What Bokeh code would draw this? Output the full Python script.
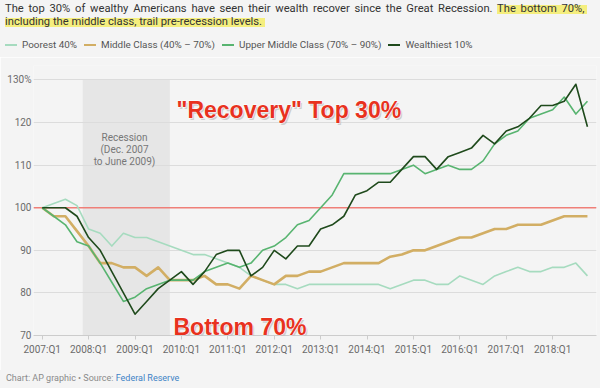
from bokeh.plotting import figure
from bokeh.layouts import column
from bokeh.models import Label, Span, BoxAnnotation, FixedTicker, Range1d, Div
from bokeh.embed import file_html
from bokeh.resources import INLINE

quarters = [f"{y}:Q{q}" for y in range(2007, 2019) for q in range(1, 5)]
poorest = [100, 101, 102, 100.5, 95, 94, 91, 94, 93, 93, 92, 91,
           90, 89, 89, 88, 87, 86, 84, 83, 82, 82, 81, 82,
           82, 82, 82, 82, 82, 82, 81, 82, 83, 83, 82, 82,
           84, 83, 82, 84, 85, 86, 85, 85, 86, 86, 87, 84]
middle = [100, 98, 98, 94.5, 91, 87, 87, 86, 86, 84, 86, 83,
          83, 83, 84, 82, 82, 81, 84, 83, 82, 84, 84, 85,
          85, 86, 87, 87, 87, 87, 88.5, 89, 90, 90, 91, 92,
          93, 93, 94, 95, 95, 96, 96, 96, 97, 98, 98, 98]
upper_middle = [100, 98, 96, 92, 91, 87, 82.5, 78, 79, 81, 82, 83,
                83, 83, 85, 86, 87, 86, 87, 90, 91, 93, 96, 97,
                100, 103, 108, 108, 108, 108, 108, 109, 110, 108, 109, 110,
                109, 109, 111, 115, 117, 118, 121, 122, 123, 126, 122, 125]
wealthiest = [100, 100, 100, 98, 93, 90, 85, 80, 75, 78, 81, 83,
              85, 82, 85, 89, 90, 90, 84, 86, 90, 88, 91, 91,
              95, 96, 98, 103, 104, 106, 106, 109, 112, 112, 109, 112,
              113, 114, 117, 115, 118, 119, 121, 124, 124, 125, 129, 119]
series_names = ["Poorest 40%", "Middle Class (40% \u2013 70%)",
                "Upper Middle Class (70% \u2013 90%)", "Wealthiest 10%"]
y_ticks = [70, 80, 90, 100, 110, 120, 130]
recession_start, recession_end = 3.5, 11.0
baseline_level = 100

title_plain = "The top 30% of wealthy Americans have seen their wealth recover since the Great Recession."
title_marked_1 = "The bottom 70%,"
title_marked_2 = "including the middle class, trail pre-recession levels."
source_text = "Chart: AP graphic \u2022 Source:"
source_link = "Federal Reserve"
recession_note = ["Recession", "(Dec. 2007", "to June 2009)"]
callouts = ["\"Recovery\" Top 30%", "Bottom 70%"]

BG = "#f4f4f4"
FONT = "Roboto"
colors = ["#a6dbbf", "#d2ae64", "#58b470", "#1f4a1c"]
widths = [1.6, 2.6, 1.6, 1.6]

W = 600
H_HEAD, H_MAIN, H_FOOT = 57, 313, 18
MAIN_TOP = H_HEAD            # page y of main figure top
FL, FB = 33, 335             # page coords of plot frame left / bottom

# ---------------- header: title + legend (HTML) ----------------
HL = ("background:linear-gradient(to bottom, rgba(0,0,0,0) 24%, rgba(245,236,80,0.72) 24%, "
      "rgba(245,236,80,0.72) 94%, rgba(0,0,0,0) 94%);padding-right:3px;")
legend_items = "".join(
    f'<span style="display:inline-flex;align-items:center;margin-right:7px;">'
    f'<span style="display:inline-block;width:12px;height:{w:.1f}px;background:{c};margin-right:5px;"></span>'
    f'<span>{n}</span></span>'
    for n, c, w in zip(series_names, colors, widths))
head_html = (
    f'<div style="position:relative;width:{W}px;height:{H_HEAD}px;background:{BG};'
    f'font-family:{FONT},sans-serif;overflow:hidden;">'
    f'<div style="position:absolute;left:5px;top:2px;font-size:11.2px;line-height:13px;'
    f'color:#333333;white-space:nowrap;">'
    f'<span style="word-spacing:2px;">{title_plain} <span style="{HL}">{title_marked_1}</span></span><br>'
    f'<span style="{HL}">{title_marked_2}</span></div>'
    f'<div style="position:absolute;left:5px;top:39px;font-size:9.9px;line-height:12px;'
    f'color:#555555;white-space:nowrap;display:flex;align-items:center;">{legend_items}</div>'
    f'</div>')
head = Div(text=head_html, width=W, height=H_HEAD, margin=0)

# ---------------- main chart ----------------
p = figure(width=W, height=H_MAIN, output_backend="svg", toolbar_location=None, tools="",
           x_range=Range1d(-0.75, 47.78), y_range=Range1d(70, 133.4),
           min_border_left=FL, min_border_right=4, min_border_top=65 - MAIN_TOP,
           min_border_bottom=MAIN_TOP + H_MAIN - FB,
           background_fill_color=BG, border_fill_color=BG, outline_line_color=None)

p.add_layout(BoxAnnotation(left=recession_start, right=recession_end, bottom=70, top=130,
                           fill_color="#dcdcdc", fill_alpha=0.6, line_color=None, level="underlay"))
p.add_layout(Span(location=baseline_level, dimension="width", line_color="#ef7f78",
                  line_width=1.5, level="underlay"))

x = list(range(len(quarters)))
tick_idx = list(range(0, len(quarters), 4))
for vals, c, w, n in zip([poorest, middle, upper_middle, wealthiest], colors, widths, series_names):
    p.line(x, vals, line_color=c, line_width=w, line_join="round", name=n)

p.xaxis.ticker = FixedTicker(ticks=tick_idx)
p.xaxis.major_label_overrides = {i: quarters[i] for i in tick_idx}
p.xaxis.axis_line_color = "#cccccc"
p.xaxis.major_tick_line_color = "#cccccc"
p.xaxis.major_tick_out = 4
p.xaxis.major_tick_in = 0
p.xaxis.minor_tick_line_color = None
p.xaxis.minor_tick_out = 0
p.xaxis.major_label_standoff = 4
p.yaxis.ticker = FixedTicker(ticks=y_ticks)
p.yaxis.major_label_overrides = {130: "130%"}
p.yaxis.axis_line_color = None
p.yaxis.major_tick_line_color = None
p.yaxis.minor_tick_line_color = None
p.yaxis.major_tick_out = 0
p.yaxis.minor_tick_out = 0
p.yaxis.major_label_standoff = 2
for ax in (p.xaxis, p.yaxis):
    ax.major_label_text_font = FONT
    ax.major_label_text_font_size = "10px"
    ax.major_label_text_color = "#6b6b6b"
p.xgrid.grid_line_color = None
p.ygrid.grid_line_color = "#dcdcdc"


def lab(text, px, py, size, color, style="normal", align="left", font=FONT, **kw):
    l = Label(x=px - FL, y=FB - py, x_units="screen", y_units="screen", text=text,
              text_font=font, text_font_size=size, text_color=color, text_font_style=style,
              text_align=align, text_baseline="alphabetic", **kw)
    p.add_layout(l)
    return l

for line, py in zip(recession_note, [137, 149, 161]):
    lab(line, 124, py, "10px", "#777777", align="center")

for txt, (px, py) in zip(callouts, [(176, 109), (173, 326)]):
    lab(txt, px + 1.5, py + 2.2, "23px", "#a8a8a8", style="bold", font="Liberation Sans", text_alpha=0.5)
    lab(txt, px, py, "23px", "#ffffff", style="bold", font="Liberation Sans",
        text_outline_color="#ffffff")
    lab(txt, px, py, "23px", "#e8321e", style="bold", font="Liberation Sans")

# ---------------- footer (HTML) ----------------
foot_html = (
    f'<div style="position:relative;width:{W}px;height:{H_FOOT}px;background:{BG};'
    f'font-family:{FONT},sans-serif;overflow:hidden;">'
    f'<div style="position:absolute;left:6px;top:2px;font-size:9px;line-height:12px;'
    f'color:#8a8a8a;white-space:nowrap;">{source_text} '
    f'<span style="color:#3f83c6;">{source_link}</span></div></div>')
foot = Div(text=foot_html, width=W, height=H_FOOT, margin=0)

layout = column(head, p, foot, spacing=0)
open("out.html", "w").write(file_html(layout, INLINE))
